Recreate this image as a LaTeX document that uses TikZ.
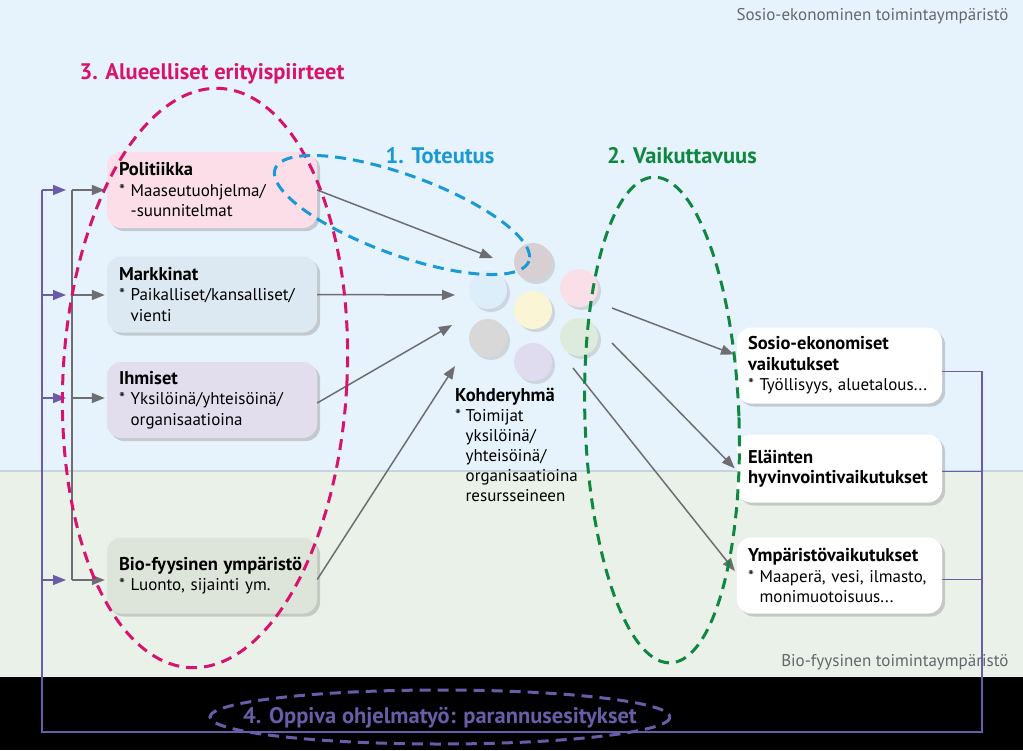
\documentclass[tikz,border=0pt]{standalone}
\usepackage{fontspec}
\setmainfont{PT Sans}
\usetikzlibrary{arrows.meta,shadows}
\definecolor{bgtop}{RGB}{230,243,252}
\definecolor{bgbot}{RGB}{234,241,233}
\definecolor{sepc}{RGB}{197,212,222}
\definecolor{envgray}{RGB}{100,102,108}
\definecolor{garr}{RGB}{110,110,114}
\definecolor{purp}{RGB}{106,92,168}
\definecolor{mag}{RGB}{214,20,110}
\definecolor{blu}{RGB}{27,153,214}
\definecolor{grn}{RGB}{16,135,65}
\definecolor{pinkbox}{RGB}{251,222,231}
\definecolor{bluebox}{RGB}{220,233,242}
\definecolor{lavbox}{RGB}{226,222,238}
\definecolor{greenbox}{RGB}{221,229,218}
\definecolor{ctopc}{RGB}{216,207,210}
\definecolor{cpinkc}{RGB}{250,222,232}
\definecolor{cbluec}{RGB}{221,238,251}
\definecolor{cyelc}{RGB}{250,246,213}
\definecolor{cgrayc}{RGB}{216,216,216}
\definecolor{cgrnc}{RGB}{221,235,221}
\definecolor{clavc}{RGB}{224,220,240}
\newcommand\boxttl[1]{{\bfseries\fontsize{18.5}{20.5}\selectfont #1}}
\begin{document}
\begin{tikzpicture}[x=1pt,y=-1pt,
  bx/.style={rectangle, rounded corners=14pt, minimum height=76pt, align=left,
    inner ysep=3pt, font=\fontsize{17}{20.5}\selectfont,
    drop shadow={shadow xshift=3pt, shadow yshift=-3pt, opacity=0.35}},
  lbox/.style={bx, text width=186pt, inner xsep=12pt},
  rbox/.style={bx, fill=white, text width=183pt, inner xsep=11pt},
  dot/.style={circle, minimum size=38pt, inner sep=0pt,
    drop shadow={shadow xshift=3pt, shadow yshift=-3pt, opacity=0.25}},
  ell/.style={line width=3pt, dash pattern=on 11pt off 7pt},
  garrow/.style={garr, line width=1.5pt, -{Triangle[length=13pt,width=10pt]}},
  parrow/.style={purp, line width=1.5pt, -{Triangle[length=13pt,width=10pt]}},
  hdr/.style={font=\bfseries\fontsize{22.5}{26}\selectfont},
  envlab/.style={anchor=east, text=envgray, font=\fontsize{17}{20}\selectfont}
]
\useasboundingbox (0,0) rectangle (1023,750);
% backgrounds
\fill[bgtop] (0,0) rectangle (1023,471);
\fill[bgbot] (0,471) rectangle (1023,677);
\draw[sepc, line width=2.5pt] (0,471) -- (1023,471);
\fill[black] (0,677) rectangle (1023,750);
\node[envlab] (envtop) at (1012,16) {Sosio-ekonominen toimintaympäristö};
\node[envlab] (envbot) at (1012,662) {Bio-fyysinen toimintaympäristö};

% left boxes
\node[lbox, fill=pinkbox] (pol) at (212,190) {\boxttl{Politiikka}\\{*} Maaseutuohjelma/\\ \phantom{* }-suunnitelmat};
\node[lbox, fill=bluebox] (mar) at (212,294.5) {\boxttl{Markkinat}\\{*} Paikalliset/kansalliset/\\ \phantom{* }vienti};
\node[lbox, fill=lavbox] (ihm) at (212,400) {\boxttl{Ihmiset}\\{*} Yksilöinä/yhteisöinä/\\ \phantom{* }organisaatioina};
\node[lbox, fill=greenbox] (bio) at (212,575.5) {\boxttl{Bio-fyysinen ympäristö}\\{*} Luonto, sijainti ym.};

% right boxes
\node[rbox] (soc) at (839.5,365.5) {\boxttl{Sosio-ekonomiset}\\ \boxttl{vaikutukset}\\{*} Työllisyys, aluetalous...};
\node[rbox, minimum height=68pt] (ela) at (839.5,468.5) {\boxttl{Eläinten}\\ \boxttl{hyvinvointivaikutukset}};
\node[rbox] (ymp) at (839.5,575.5) {\boxttl{Ympäristövaikutukset}\\{*} Maaperä, vesi, ilmasto,\\ \phantom{* }monimuotoisuus...};

% target group circles
\node[dot, fill=ctopc] (ctop) at (533,262) {};
\node[dot, fill=cpinkc] (cpink) at (579,288) {};
\node[dot, fill=cbluec] (cblue) at (488,290) {};
\node[dot, fill=cyelc] (cyel) at (533,310) {};
\node[dot, fill=cgrayc] (cgray) at (488,338) {};
\node[dot, fill=cgrnc] (cgrn) at (579,337) {};
\node[dot, fill=clavc] (clav) at (533,362) {};
\node[anchor=north west, align=left, inner sep=0pt, font=\fontsize{17}{20}\selectfont] (koh) at (455,388)
  {\boxttl{Kohderyhmä}\\{*} Toimijat\\ \phantom{* }yksilöinä/\\ \phantom{* }yhteisöinä/\\ \phantom{* }organisaatioina\\ \phantom{* }resursseineen};

% coordinates
\coordinate (in1) at (493,258);
\coordinate (in2) at (455,295);
\coordinate (in3) at (452,325);
\coordinate (in4) at (455,366);
\coordinate (out1) at (612,308);
\coordinate (out2) at (612,343);
\coordinate (out3) at (573,368);
\coordinate (g1) at (72,190);
\coordinate (g2) at (72,295);
\coordinate (g3) at (72,398);
\coordinate (g4) at (72,580);
\coordinate (p1) at (42,190);
\coordinate (p2) at (42,295);
\coordinate (p3) at (42,398);
\coordinate (p4) at (42,580);
\coordinate (lb) at (42,732);
\coordinate (rb) at (982,732);
\coordinate (rt) at (982,372);

% feedback loop (purple)
\draw[purp, line width=1.3pt] ([yshift=-6pt]soc.east) -- ([yshift=-6pt]soc.east -| rt) -- (rb) -- (lb) -- (p1);
\draw[purp, line width=1.3pt] ([yshift=-3pt]ela.east) -- ([yshift=-3pt]ela.east -| rt);
\draw[purp, line width=1.3pt] ([yshift=-4pt]ymp.east) -- ([yshift=-4pt]ymp.east -| rt);
\draw[parrow, shorten >=6pt] (p1) -- (g1);
\draw[parrow, shorten >=6pt] (p2) -- (g2);
\draw[parrow, shorten >=6pt] (p3) -- (g3);
\draw[parrow, shorten >=6pt] (p4) -- (g4);

% gray distribution
\draw[garr, line width=1.5pt] (g1) -- (g4);
\draw[garrow, shorten >=2pt] (g1) -- (g1 -| pol.west);
\draw[garrow, shorten >=2pt] (g2) -- (g2 -| mar.west);
\draw[garrow, shorten >=2pt] (g3) -- (g3 -| ihm.west);
\draw[garrow, shorten >=2pt] (g4) -- (g4 -| bio.west);

% arrows into target group
\draw[garrow] (pol.east) -- (in1);
\draw[garrow] (mar.east) -- (in2);
\draw[garrow] ([yshift=-3pt]ihm.east) -- (in3);
\draw[garrow] ([yshift=-4pt]bio.east) -- (in4);

% arrows to impacts
\draw[garrow, shorten >=3pt] (out1) -- ([yshift=10pt]soc.west);
\draw[garrow, shorten >=3pt] (out2) -- ([yshift=-2pt]ela.west);
\draw[garrow, shorten >=3pt] (out3) -- ([yshift=2pt]ymp.west);

% dashed ellipses
\draw[ell, mag] plot[domain=0:360, samples=120, smooth, variable=\t]
  ({205+142*cos(\t)*cos(3)-290*sin(\t)*sin(3)},{378+142*cos(\t)*sin(3)+290*sin(\t)*cos(3)}) -- cycle;
\draw[ell, blu] plot[domain=0:360, samples=120, smooth, variable=\t]
  ({402+135*cos(\t)*cos(20)-40*sin(\t)*sin(20)},{215+135*cos(\t)*sin(20)+40*sin(\t)*cos(20)}) -- cycle;
\draw[ell, grn] plot[domain=0:360, samples=120, smooth, variable=\t]
  ({662+77*cos(\t)*cos(-2)-243*sin(\t)*sin(-2)},{420+77*cos(\t)*sin(-2)+243*sin(\t)*cos(-2)}) -- cycle;
\draw[ell, purp] (440,717) ellipse [x radius=230, y radius=27];

% headers
\node[hdr, text=mag] (lab3) at (212,74) {3. Alueelliset erityispiirteet};
\node[hdr, text=blu] (lab1) at (440,156) {1. Toteutus};
\node[hdr, text=grn] (lab2) at (682,156) {2. Vaikuttavuus};
\node[hdr, text=purp] (lab4) at (440,718) {4. Oppiva ohjelmatyö: parannusesitykset};
\end{tikzpicture}
\end{document}
